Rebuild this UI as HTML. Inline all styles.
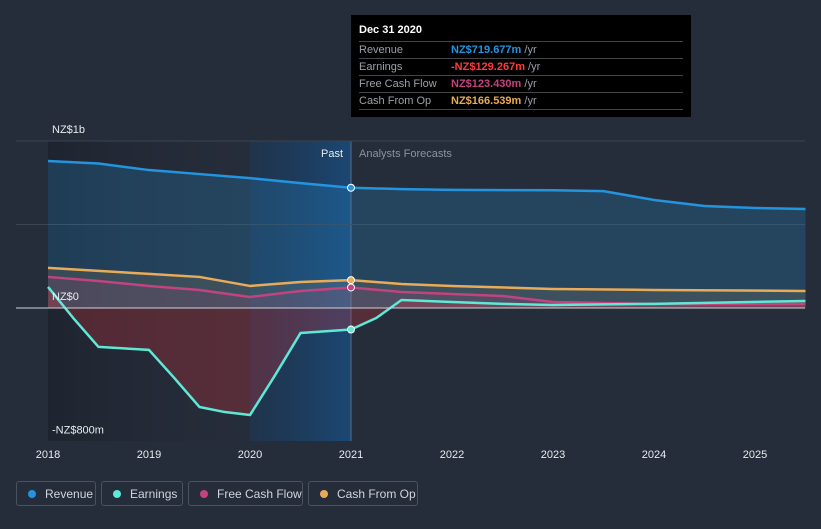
<!DOCTYPE html>
<html><head><meta charset="utf-8"><style>
body{margin:0;background:#262d3a;font-family:"Liberation Sans",sans-serif;}
svg text{font-family:"Liberation Sans",sans-serif;}
</style></head><body>
<svg id="c" width="821" height="524" xmlns="http://www.w3.org/2000/svg">
<rect width="821" height="524" fill="#262d3a"/>
<defs>
<linearGradient id="past" x1="0" x2="1"><stop offset="0" stop-color="#1d232e" stop-opacity="0.9"/><stop offset="1" stop-color="#262d3a" stop-opacity="0.3"/></linearGradient>
<linearGradient id="hl" x1="0" x2="1"><stop offset="0" stop-color="#1a3a5c" stop-opacity="0.5"/><stop offset="1" stop-color="#1a4a7a" stop-opacity="0.9"/></linearGradient>
</defs>
<g id="bg"></g>
<g id="areas"></g>
<g id="lines"></g>
<g id="axis"></g>
</svg>
<script>
const years=[2018,2019,2020,2021,2022,2023,2024,2025];
const revX=[2018,2018.5,2019,2019.5,2020,2020.5,2021,2021.5,2022,2023,2023.5,2024,2024.5,2025,2025.5];
const revV=[880,865,826,802,778,748,720,712,707,705,700,647,611,599,593];
const earnX=[2018,2018.25,2018.5,2019,2019.25,2019.5,2019.75,2020,2020.25,2020.5,2021,2021.25,2021.5,2022,2022.5,2023,2024,2025.5];
const earnV=[126,-60,-233,-251,-419,-593,-623,-641,-401,-150,-129,-60,48,36,25,18,25,42];
const fcfX=[2018,2018.5,2019,2019.5,2020,2020.5,2021,2021.5,2022,2022.5,2023,2024,2025.5];
const fcfV=[186,162,132,108,66,102,123,96,84,72,36,24,24];
const cfoX=[2018,2018.5,2019,2019.5,2020,2020.5,2021,2021.5,2022,2023,2024,2025.5];
const cfoV=[240,222,204,186,132,156,167,144,132,114,108,102];
const yTicks=[{v:1000,t:"NZ$1b"},{v:0,t:"NZ$0"},{v:-800,t:"-NZ$800m"}];
const X=y=>48+(y-2018)*101;
const Y=v=>308-v*0.167;
const NS="http://www.w3.org/2000/svg";
function el(tag,attrs,parent,txt){const e=document.createElementNS(NS,tag);for(const k in attrs)e.setAttribute(k,attrs[k]);if(txt!==undefined)e.textContent=txt;document.getElementById(parent).appendChild(e);return e;}
// backgrounds
let e=el('rect',{x:X(2018),y:141,width:X(2020)-X(2018),height:300,fill:'url(#past)'},'bg');

e=el('rect',{x:X(2020),y:141,width:X(2021)-X(2020),height:300,fill:'url(#hl)'},'bg');

e=el('line',{x1:X(2021),x2:X(2021),y1:141,y2:441,stroke:'#5a6a80','stroke-width':1},'bg');

[1000,500].forEach(v=>{const g=el('line',{x1:16,x2:805,y1:Y(v),y2:Y(v),stroke:'#3a4350','stroke-width':1},'bg');});
function pts(xs,vs){return xs.map((x,i)=>X(x)+','+Y(vs[i])).join(' ');}
const series=[
 {n:'revenue',xs:revX,vs:revV,c:'#2394df',fill:'rgba(35,148,223,0.22)'},
 {n:'cash-from-op',xs:cfoX,vs:cfoV,c:'#e8ab57',fill:'rgba(232,171,87,0.12)'},
 {n:'free-cash-flow',xs:fcfX,vs:fcfV,c:'#c2447e',fill:'rgba(194,68,126,0.15)'},
 {n:'earnings',xs:earnX,vs:earnV,c:'#5ee8d6',fill:'rgba(200,50,60,0.3)'}];
series.forEach(s=>{
 const p=pts(s.xs,s.vs);
 const a=el('polygon',{points:X(s.xs[0])+','+Y(0)+' '+p+' '+X(s.xs[s.xs.length-1])+','+Y(0),fill:s.fill},'areas');
 
 const l=el('polyline',{points:p,fill:'none',stroke:s.c,'stroke-width':2.5,'stroke-linejoin':'round'},'lines');
 
 const i=s.xs.indexOf(2021);
 const d=el('circle',{cx:X(2021),cy:Y(s.vs[i]),r:3.5,fill:s.c,stroke:'#fff','stroke-width':1},'lines');
 
});
e=el('line',{x1:16,x2:805,y1:Y(0),y2:Y(0),stroke:'#cfd3d8','stroke-width':1},'axis');

yTicks.forEach(t=>{const g=el('text',{x:52,y:t.v===-800?Y(t.v)-8:Y(t.v)-8,fill:'#e8eaed','font-size':11,'text-anchor':'start'},'axis',t.t);g.setAttribute('x',t.v===0?52:52);});
years.forEach(y=>{const g=el('text',{x:X(y),y:458,fill:'#e8eaed','font-size':11,'text-anchor':'middle'},'axis',y);});
e=el('text',{x:343,y:157,fill:'#e8eaed','font-size':11,'text-anchor':'end'},'axis','Past');
e=el('text',{x:359,y:157,fill:'#8a93a0','font-size':11},'axis','Analysts Forecasts');
</script>
<div style="position:absolute;left:351px;top:15px;width:340px;height:102px;background:#000;color:#9aa0a8;font-size:11px;box-sizing:border-box;padding:9px 8px 0 8px;">
<div style="color:#fff;font-weight:bold;height:17px;border-bottom:1px solid #444;">Dec 31 2020</div>
<div style="height:16px;line-height:16px;border-bottom:1px solid #444;"><span style="display:inline-block;width:92px">Revenue</span><b style="color:#2394df">NZ$719.677m</b> /yr</div>
<div style="height:16px;line-height:16px;border-bottom:1px solid #444;"><span style="display:inline-block;width:92px">Earnings</span><b style="color:#ff3b3b">-NZ$129.267m</b> /yr</div>
<div style="height:16px;line-height:16px;border-bottom:1px solid #444;"><span style="display:inline-block;width:92px">Free Cash Flow</span><b style="color:#c2447e">NZ$123.430m</b> /yr</div>
<div style="height:16px;line-height:16px;border-bottom:1px solid #444;"><span style="display:inline-block;width:92px">Cash From Op</span><b style="color:#e8ab57">NZ$166.539m</b> /yr</div>
</div>
<div style="position:absolute;left:16px;top:481px;display:flex;gap:5px;font-size:12px;color:#d0d4da;">
<div style="border:1px solid #4a5260;border-radius:3px;height:25px;width:80px;box-sizing:border-box;display:flex;align-items:center;padding-left:11px;"><span style="width:8px;height:8px;border-radius:50%;background:#2394df;margin-right:9px"></span>Revenue</div>
<div style="border:1px solid #4a5260;border-radius:3px;height:25px;width:82px;box-sizing:border-box;display:flex;align-items:center;padding-left:11px;"><span style="width:8px;height:8px;border-radius:50%;background:#5ee8d6;margin-right:9px"></span>Earnings</div>
<div style="border:1px solid #4a5260;border-radius:3px;height:25px;width:115px;box-sizing:border-box;display:flex;align-items:center;padding-left:11px;"><span style="width:8px;height:8px;border-radius:50%;background:#c2447e;margin-right:9px"></span>Free Cash Flow</div>
<div style="border:1px solid #4a5260;border-radius:3px;height:25px;width:110px;box-sizing:border-box;display:flex;align-items:center;padding-left:11px;"><span style="width:8px;height:8px;border-radius:50%;background:#e8ab57;margin-right:9px"></span>Cash From Op</div>
</div>
</body></html>
